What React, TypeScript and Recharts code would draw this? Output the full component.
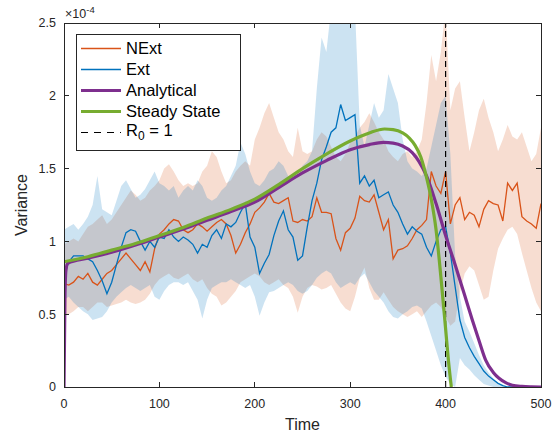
import { Area, ComposedChart, Line, ReferenceLine, XAxis, YAxis } from "recharts";

// values are in units of 1e-4 (the axis shows the ×10^-4 factor)
const time = [
  0, 5, 10, 15, 20, 25, 30, 35, 40, 45, 50, 55, 60, 65, 70, 75, 80, 85, 90, 95,
  100, 105, 110, 115, 120, 125, 130, 135, 140, 145, 150, 155, 160, 165, 170, 175, 180, 185, 190, 195,
  200, 205, 210, 215, 220, 225, 230, 235, 240, 245, 250, 255, 260, 265, 270, 275, 280, 285, 290, 295,
  300, 305, 310, 315, 320, 325, 330, 335, 340, 345, 350, 355, 360, 365, 370, 375, 380, 385, 390, 395,
  400, 405, 410, 415, 420, 425, 430, 435, 440, 445, 450, 455, 460, 465, 470, 475, 480, 485, 490, 495,
  500,
];

const nextMean = [
  0.71, 0.7, 0.72, 0.76, 0.74, 0.78, 0.72, 0.7, 0.74, 0.78,
  0.8, 0.84, 0.88, 0.92, 0.88, 0.84, 0.8, 0.86, 0.79, 0.95,
  1.05, 1.08, 1.12, 1.15, 1.14, 1.08, 1.06, 1.08, 1.12, 1.1,
  1.07, 1.1, 1.13, 1.15, 1.12, 1.04, 0.92, 0.98, 1.06, 1.12,
  1.2, 1.23, 1.27, 1.33, 1.27, 1.26, 1.28, 1.3, 1.14, 1.13,
  1.15, 1.14, 1.17, 1.3, 1.2, 1.2, 1.19, 1.02, 0.94, 1.06,
  1.09, 1.16, 1.31, 1.28, 1.27, 1.32, 1.2, 1.08, 1.15, 0.88,
  0.94, 0.95, 0.97, 1.02, 1.08, 1.11, 1.15, 1.48, 1.38, 1.33,
  1.48, 1.12, 1.25, 1.3, 1.15, 1.2, 1.18, 1.1, 1.22, 1.28,
  1.26, 1.25, 1.14, 1.4, 1.35, 1.4, 1.17, 1.14, 1.12, 1.09,
  1.26,
];

const extMean = [
  0.76, 0.86, 0.9, 0.9, 0.9, 0.88, 0.86, 0.8, 0.73, 0.64,
  0.72, 0.84, 0.96, 1.06, 1.08, 1.07, 1.0, 0.94, 1.0, 0.96,
  1.03, 1.02, 1.08, 1.03, 1.0, 1.03, 1.01, 0.98, 0.92, 0.98,
  0.96, 1.04, 1.08, 1.02, 1.12, 1.1, 1.13, 1.2, 1.26, 1.03,
  0.96, 0.78, 0.85, 0.91, 1.04, 1.14, 1.21, 1.08, 1.03, 0.87,
  0.9, 1.1, 1.28, 1.4, 1.56, 1.65, 1.75, 1.78, 1.94, 1.83,
  1.85, 1.87, 1.4, 1.45, 1.38, 1.42, 1.3, 1.32, 1.34, 1.25,
  1.2, 1.12, 1.05, 1.1, 1.07, 1.05, 0.96, 0.9, 1.0, 1.08,
  1.1, 0.92, 0.69, 0.46, 0.34, 0.27, 0.21, 0.16, 0.11, 0.075,
  0.05, 0.025, 0.01, 0, 0, 0, 0, 0, 0, 0,
  0,
];

const extLow = [
  0.6, 0.62, 0.58, 0.55, 0.52, 0.5, 0.46, 0.47, 0.48, 0.52,
  0.58, 0.62, 0.65, 0.68, 0.7, 0.68, 0.66, 0.68, 0.7, 0.62,
  0.6, 0.66, 0.7, 0.72, 0.72, 0.7, 0.72, 0.66, 0.6, 0.47,
  0.6, 0.68, 0.7, 0.72, 0.72, 0.74, 0.72, 0.7, 0.68, 0.7,
  0.62, 0.49, 0.58, 0.65, 0.66, 0.68, 0.7, 0.72, 0.7, 0.66,
  0.64, 0.66, 0.7, 0.75, 0.78, 0.8, 0.78, 0.72, 0.68, 0.7,
  0.72, 0.7, 0.75, 0.78, 0.72, 0.66, 0.62, 0.58, 0.52, 0.48,
  0.47, 0.5, 0.52, 0.55, 0.56, 0.54, 0.45, 0.35, 0.25, 0.15,
  0.07, 0.02, 0, 0.2, 0.15, 0.12, 0.08, 0.05, 0.02, 0.01,
  0, 0, 0, 0, 0, 0, 0, 0, 0, 0,
  0,
];

const extHigh = [
  1.08, 1.1, 1.12, 1.08, 1.12, 1.17, 1.25, 1.45, 1.22, 1.2,
  1.18, 1.28, 1.38, 1.42, 1.36, 1.3, 1.32, 1.36, 1.42, 1.48,
  1.4, 1.38, 1.35, 1.38, 1.3, 1.35, 1.38, 1.35, 1.42, 1.38,
  1.3, 1.28, 1.3, 1.35, 1.38, 1.45, 1.52, 1.68, 1.6, 1.48,
  1.4, 1.38, 1.42, 1.48, 1.5, 1.55, 1.52, 1.45, 1.42, 1.45,
  1.52, 1.55, 1.62, 2.05, 2.4, 2.3, 2.6, 2.7, 2.7, 2.7,
  2.7, 2.6, 1.8, 1.65, 1.8, 1.95, 1.85, 1.9, 2.15, 2.05,
  1.95, 1.7, 1.55, 1.5, 1.48, 1.45, 1.5, 1.65, 1.8, 1.95,
  2.0, 1.6, 0.9, 0.62, 0.45, 0.38, 0.3, 0.22, 0.15, 0.1,
  0.06, 0.03, 0.01, 0, 0, 0, 0, 0, 0, 0,
  0,
];

const nextLow = [
  0.5, 0.5, 0.52, 0.55, 0.55, 0.52, 0.55, 0.58, 0.58, 0.55,
  0.56, 0.57, 0.58, 0.6, 0.58, 0.57, 0.58, 0.6, 0.64, 0.7,
  0.74, 0.76, 0.78, 0.75, 0.74, 0.76, 0.78, 0.74, 0.72, 0.74,
  0.68, 0.64, 0.62, 0.56, 0.58, 0.62, 0.66, 0.72, 0.74, 0.76,
  0.78, 0.76, 0.72, 0.7, 0.72, 0.74, 0.7, 0.68, 0.62, 0.51,
  0.62, 0.68, 0.7, 0.69, 0.67, 0.68, 0.7, 0.64, 0.58, 0.54,
  0.52, 0.62, 0.75, 0.82, 0.68, 0.6, 0.6, 0.65, 0.6, 0.55,
  0.52, 0.5, 0.48, 0.5, 0.52, 0.48, 0.52, 0.56, 0.58, 0.55,
  0.48, 0.42, 0.45, 0.65, 0.78, 0.83, 0.8, 0.7, 0.6, 0.62,
  0.8, 0.95, 1.02, 1.08, 1.1, 1.05, 0.92, 0.8, 0.68, 0.58,
  0.52,
];

const nextHigh = [
  0.98, 1.0, 1.02, 1.0, 1.05, 1.1, 1.12, 1.15, 1.18, 1.12,
  1.15, 1.2, 1.25, 1.3, 1.35, 1.32, 1.28, 1.3, 1.35, 1.38,
  1.42, 1.5, 1.53, 1.48, 1.42, 1.38, 1.4, 1.38, 1.4, 1.48,
  1.52, 1.62, 1.58, 1.48, 1.4, 1.42, 1.48, 1.52, 1.55, 1.52,
  1.7, 1.78, 1.88, 1.95, 1.85, 1.75, 1.7, 1.62, 1.58, 1.78,
  1.62, 1.6, 1.62, 1.7, 1.75, 1.72, 1.65, 1.58, 1.55, 1.6,
  1.68, 1.72, 1.78, 1.82, 1.88, 1.82, 1.75, 1.7, 1.62, 1.58,
  1.55, 1.6, 1.62, 1.58, 1.62, 1.7, 1.95, 2.28, 2.1, 2.3,
  2.6, 1.9, 2.05, 2.1, 1.85, 1.62, 1.75, 1.9, 1.98, 1.85,
  1.75, 1.62, 1.7, 1.8, 1.72, 1.7, 1.75, 1.65, 1.55, 1.6,
  1.78,
];

const analyticalTime = [
  0, 1, 2, 4, 25, 50, 75, 100, 125, 150, 175, 200, 225, 250, 275, 300, 320, 335, 345,
  355, 365, 372, 380, 390, 400, 410, 420, 428, 435, 442, 450, 456, 463, 470, 480, 490, 500,
];
const analyticalValue = [
  0, 0.62, 0.8, 0.85, 0.885, 0.925, 0.975, 1.03, 1.085, 1.145, 1.205, 1.27, 1.37, 1.47, 1.555,
  1.63, 1.665, 1.68, 1.675, 1.655, 1.61, 1.55, 1.45, 1.26, 1.04, 0.84, 0.63, 0.46, 0.32, 0.185,
  0.1, 0.06, 0.03, 0.012, 0.004, 0.001, 0,
];

const steadyTime = [
  0, 25, 50, 75, 100, 125, 150, 175, 200, 225, 250, 275, 300, 320, 336, 345, 355, 362, 368,
  374, 380, 385, 390, 395, 400, 403, 406,
];
const steadyValue = [
  0.86, 0.895, 0.94, 0.985, 1.04, 1.095, 1.16, 1.22, 1.29, 1.39, 1.5, 1.6, 1.69, 1.745, 1.772,
  1.768, 1.745, 1.71, 1.66, 1.58, 1.44, 1.29, 1.08, 0.76, 0.4, 0.18, 0,
];

const thresholdTime = 400;

const xTicks = [0, 100, 200, 300, 400, 500];
const yTicks = [0, 0.5, 1, 1.5, 2, 2.5];
const xMax = 500;
const yMax = 2.5;

const colors = {
  next: "#D95319",
  ext: "#0072BD",
  analytical: "#7E2F8E",
  steady: "#77AC30",
  axis: "#262626",
};

const font = '"Liberation Sans", Arial, Helvetica, sans-serif';

// chart box and the plot rectangle inside it
const chartW = 554;
const chartH = 434;
const yAxisW = 64;
const xAxisH = 47;
const margin = { top: 23, right: 13, bottom: 0, left: 0 };
const plot = {
  left: margin.left + yAxisW,
  top: margin.top,
  width: chartW - margin.left - margin.right - yAxisW,
  height: chartH - margin.top - margin.bottom - xAxisH,
};

const rows = time.map((t, i) => ({
  t,
  next: nextMean[i],
  ext: extMean[i],
  nextBand: [nextLow[i], nextHigh[i]],
  extBand: [extLow[i], extHigh[i]],
}));
const analyticalRows = analyticalTime.map((t, i) => ({ t, v: analyticalValue[i] }));
const steadyRows = steadyTime.map((t, i) => ({ t, v: steadyValue[i] }));

const legendItems = [
  { key: "next", label: "NExt", color: colors.next, width: 1.3, dash: undefined },
  { key: "ext", label: "Ext", color: colors.ext, width: 1.3, dash: undefined },
  { key: "analytical", label: "Analytical", color: colors.analytical, width: 3.2, dash: undefined },
  { key: "steady", label: "Steady State", color: colors.steady, width: 3.2, dash: undefined },
  { key: "r0", label: "R0", color: "#000", width: 1.2, dash: "7 6" },
];

type Box = { x: number; y: number; width: number; height: number };

function YLabels({ viewBox }: { viewBox?: Box }) {
  if (!viewBox) return null;
  const cx = viewBox.x + 27;
  const cy = plot.top + plot.height / 2;
  return (
    <g fontFamily={font} fill={colors.axis}>
      <text x={cx} y={cy} fontSize={16} textAnchor="middle" transform={`rotate(-90, ${cx}, ${cy})`}>
        Variance
      </text>
      <text x={plot.left + 1} y={plot.top - 5} fontSize={12.5}>
        ×10
        <tspan dy={-5} fontSize={9.5}>
          -4
        </tspan>
      </text>
    </g>
  );
}

function XLabel({ viewBox }: { viewBox?: Box }) {
  if (!viewBox) return null;
  return (
    <text
      x={viewBox.x + viewBox.width / 2}
      y={viewBox.y + 43}
      fontSize={16}
      textAnchor="middle"
      fontFamily={font}
      fill={colors.axis}
    >
      Time
    </text>
  );
}

// MATLAB-style box: all four edges with inward ticks
function AxesBox() {
  const tick = 5;
  const right = plot.left + plot.width;
  const bottom = plot.top + plot.height;
  const xPos = (t: number) => plot.left + (t / xMax) * plot.width;
  const yPos = (v: number) => bottom - (v / yMax) * plot.height;
  return (
    <svg
      width={chartW}
      height={chartH}
      style={{ position: "absolute", left: 0, top: 0, pointerEvents: "none" }}
    >
      <g stroke={colors.axis} strokeWidth={1} fill="none" shapeRendering="crispEdges">
        <rect x={plot.left} y={plot.top} width={plot.width} height={plot.height} />
        {xTicks.map((t) => (
          <g key={`x${t}`}>
            <line x1={xPos(t)} x2={xPos(t)} y1={bottom} y2={bottom - tick} />
            <line x1={xPos(t)} x2={xPos(t)} y1={plot.top} y2={plot.top + tick} />
          </g>
        ))}
        {yTicks.map((v) => (
          <g key={`y${v}`}>
            <line x1={plot.left} x2={plot.left + tick} y1={yPos(v)} y2={yPos(v)} />
            <line x1={right} x2={right - tick} y1={yPos(v)} y2={yPos(v)} />
          </g>
        ))}
      </g>
    </svg>
  );
}

function LegendBox() {
  return (
    <div
      style={{
        position: "absolute",
        left: 76,
        top: 34,
        width: 165,
        height: 117,
        boxSizing: "border-box",
        border: `1px solid ${colors.axis}`,
        background: "#fff",
        paddingTop: 2.5,
        fontFamily: font,
        fontSize: 16.5,
        color: "#000",
      }}
    >
      {legendItems.map((item) => (
        <div key={item.key} style={{ display: "flex", alignItems: "center", height: 21 }}>
          <svg width={40} height={21} style={{ marginLeft: 4, marginRight: 5, flex: "none" }}>
            <line
              x1={0}
              x2={40}
              y1={10.5}
              y2={10.5}
              stroke={item.color}
              strokeWidth={item.width}
              strokeDasharray={item.dash}
            />
          </svg>
          {item.key === "r0" ? (
            <span style={{ whiteSpace: "nowrap" }}>
              R<sub style={{ fontSize: 12, verticalAlign: "-0.35em" }}>0</sub> = 1
            </span>
          ) : (
            <span style={{ whiteSpace: "nowrap" }}>{item.label}</span>
          )}
        </div>
      ))}
    </div>
  );
}

export default function App() {
  const tickStyle = { fill: colors.axis, fontSize: 12.5, fontFamily: font };
  return (
    <div style={{ position: "absolute", left: 0, top: 0, width: chartW, height: chartH, background: "#fff" }}>
      <ComposedChart width={chartW} height={chartH} data={rows} margin={margin}>
        <XAxis
          dataKey="t"
          type="number"
          domain={[0, xMax]}
          ticks={xTicks}
          interval={0}
          allowDataOverflow
          height={xAxisH}
          axisLine={false}
          tickLine={false}
          tickSize={0}
          tickMargin={12}
          tick={tickStyle}
          label={{ content: <XLabel /> }}
        />
        <YAxis
          type="number"
          domain={[0, yMax]}
          ticks={yTicks}
          interval={0}
          allowDataOverflow
          width={yAxisW}
          axisLine={false}
          tickLine={false}
          tickSize={0}
          tickMargin={8}
          tick={tickStyle}
          label={{ content: <YLabels /> }}
        />

        <Area
          dataKey="nextBand"
          type="linear"
          stroke="none"
          fill={colors.next}
          fillOpacity={0.2}
          isAnimationActive={false}
        />
        <Area
          dataKey="extBand"
          type="linear"
          stroke="none"
          fill={colors.ext}
          fillOpacity={0.2}
          isAnimationActive={false}
        />
        <Line
          dataKey="next"
          type="linear"
          stroke={colors.next}
          strokeWidth={1.3}
          dot={false}
          activeDot={false}
          isAnimationActive={false}
        />
        <Line
          dataKey="ext"
          type="linear"
          stroke={colors.ext}
          strokeWidth={1.3}
          dot={false}
          activeDot={false}
          isAnimationActive={false}
        />
        <ReferenceLine
          x={thresholdTime}
          stroke="#000"
          strokeWidth={1.2}
          strokeDasharray="6 4"
        />
        <Line
          data={analyticalRows}
          dataKey="v"
          type="monotone"
          stroke={colors.analytical}
          strokeWidth={3.2}
          dot={false}
          activeDot={false}
          isAnimationActive={false}
        />
        <Line
          data={steadyRows}
          dataKey="v"
          type="monotone"
          stroke={colors.steady}
          strokeWidth={3.2}
          dot={false}
          activeDot={false}
          isAnimationActive={false}
        />
      </ComposedChart>
      <AxesBox />
      <LegendBox />
    </div>
  );
}
